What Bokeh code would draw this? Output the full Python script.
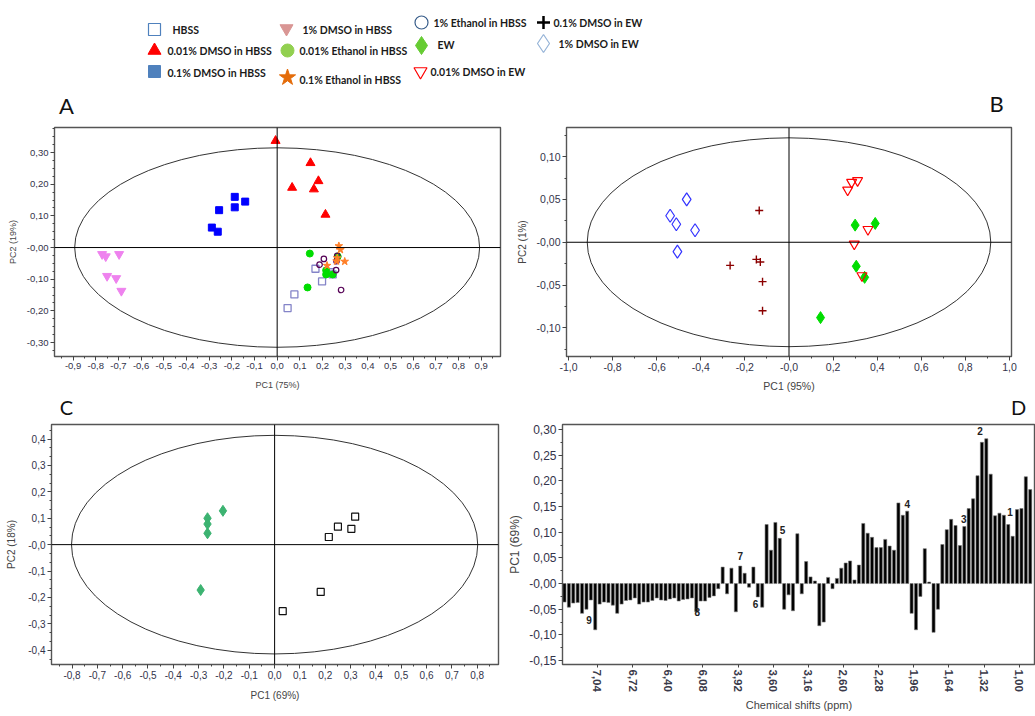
from bokeh.plotting import figure
from bokeh.layouts import column, row
from bokeh.models import Range1d, Span, FixedTicker, SingleIntervalTicker, CustomJSTickFormatter
from bokeh.core.properties import value
from bokeh.embed import file_html
from bokeh.resources import INLINE

# ---------------- DATA ----------------
# Panel A (PC1 75 %, PC2 19 %)
a_hbss_x = [0.169, 0.198, 0.076, 0.046, 0.245, 0.235]
a_hbss_y = [-0.067, -0.107, -0.148, -0.191, -0.085, -0.078]
a_d001_x = [-0.007, 0.147, 0.066, 0.182, 0.162, 0.213]
a_d001_y = [0.337, 0.267, 0.189, 0.210, 0.184, 0.104]
a_d01_x = [-0.187, -0.141, -0.187, -0.256, -0.288, -0.262]
a_d01_y = [0.160, 0.145, 0.127, 0.118, 0.063, 0.050]
a_d1_x = [-0.772, -0.756, -0.697, -0.750, -0.710, -0.687]
a_d1_y = [-0.021, -0.028, -0.021, -0.090, -0.097, -0.137]
a_e001_x = [0.144, 0.134, 0.216, 0.216, 0.245, 0.267]
a_e001_y = [-0.019, -0.126, -0.072, -0.085, -0.085, -0.028]
a_e1_x = [0.206, 0.187, 0.282, 0.265, 0.260, 0.262]
a_e1_y = [-0.036, -0.054, -0.134, -0.026, -0.071, -0.043]
a_e01_x = [0.272, 0.279, 0.298, 0.220, 0.262, 0.265]
a_e01_y = [0.005, -0.007, -0.044, -0.057, -0.043, -0.033]
a_ellipse = [0.893, 0.315]

# Panel B (PC1 95 %, PC2 1 %)
b_d1ew_x = [-0.464, -0.539, -0.511, -0.426, -0.506]
b_d1ew_y = [0.050, 0.031, 0.021, 0.014, -0.011]
b_d01ew_x = [-0.135, -0.267, -0.148, -0.130, -0.120, -0.120]
b_d01ew_y = [0.037, -0.027, -0.020, -0.023, -0.046, -0.080]
b_d001ew_x = [0.266, 0.284, 0.311, 0.358, 0.296, 0.331]
b_d001ew_y = [0.061, 0.070, 0.072, 0.015, -0.002, -0.039]
b_ew_x = [0.300, 0.391, 0.305, 0.343, 0.143]
b_ew_y = [0.020, 0.022, -0.028, -0.041, -0.088]
b_ellipse = [0.915, 0.122]

# Panel C (PC1 69 %, PC2 18 %)
c_grp1_x = [-0.265, -0.265, -0.265, -0.204, -0.292]
c_grp1_y = [0.100, 0.078, 0.043, 0.128, -0.172]
c_grp2_x = [0.318, 0.250, 0.303, 0.214, 0.182, 0.032]
c_grp2_y = [0.106, 0.068, 0.060, 0.029, -0.179, -0.252]
c_ellipse = [0.802, 0.414]

# Panel D: PC1 loadings per spectral bucket
d_loadings = [
    -0.036, -0.046, -0.038, -0.037, -0.058, -0.050, -0.032, -0.090, -0.040, -0.036,
    -0.037, -0.042, -0.058, -0.040, -0.033, -0.032, -0.028, -0.040, -0.036, -0.036,
    -0.033, -0.028, -0.032, -0.033, -0.030, -0.028, -0.034, -0.031, -0.030, -0.028,
    -0.055, -0.034, -0.034, -0.027, -0.024, -0.010, 0.032, -0.020, 0.030, -0.055,
    0.034, 0.020, -0.007, 0.032, -0.026, -0.046, 0.115, 0.065, 0.119, 0.088,
    -0.050, -0.022, -0.053, 0.097, -0.020, 0.043, 0.013, 0.005, -0.082, -0.075,
    0.012, -0.010, 0.010, 0.030, 0.040, 0.044, 0.007, 0.036, 0.117, 0.098,
    0.090, 0.070, 0.070, 0.086, 0.073, 0.065, 0.157, 0.133, 0.141, -0.058,
    -0.090, -0.025, 0.068, 0.003, -0.095, -0.050, 0.076, 0.105, 0.125, 0.113,
    0.074, 0.111, 0.146, 0.165, 0.210, 0.275, 0.282, 0.213, 0.132, 0.137,
    0.133, 0.115, 0.092, 0.144, 0.146, 0.208, 0.183]
d_tick_labels = ["7,04", "6,72", "6,40", "6,08", "3,92", "3,60", "3,16",
                 "2,60", "2,28", "1,96", "1,64", "1,32", "1,00"]
d_peak_labels = ["9", "8", "7", "6", "5", "4", "3", "2", "1"]
d_peak_bucket = [5.6, 30.2, 40.0, 43.5, 49.6, 78.0, 90.9, 94.6, 101.4]
d_peak_y = [-0.070, -0.056, 0.054, -0.040, 0.105, 0.154, 0.126, 0.297, 0.139]

# Legend
leg_labels = ["HBSS", "0.01% DMSO in HBSS", "0.1% DMSO in HBSS",
              "1% DMSO in HBSS", "0.01% Ethanol in HBSS", "0.1% Ethanol in HBSS",
              "1% Ethanol in HBSS", "EW", "0.01% DMSO in EW",
              "0.1% DMSO in EW", "1% DMSO in EW"]
panel_letters_top = ["A", "B"]
panel_letters_bottom = ["C", "D"]

# ---------------- STYLE / LAYOUT ----------------
leg_style = [  # marker, size, fill, line, line_width
    ("square", 12, None, "#4f81bd", 1.2),
    ("triangle", 13, "#ff0000", "#ff0000", 1),
    ("square", 12, "#4f81bd", "#4f81bd", 1),
    ("inverted_triangle", 13, "#d99694", "#d99694", 1),
    ("circle", 13, "#92d050", "#92d050", 1),
    ("star", 17, "#e46c0a", "#e46c0a", 1),
    ("circle", 13, None, "#385d8a", 1.2),
    ("diamond", 18, "#66cc33", "#66cc33", 1),
    ("inverted_triangle", 13, None, "#ff0000", 1.2),
    ("cross", 13, None, "#000000", 2.5),
    ("diamond", 18, None, "#95b3d7", 1.2),
]
leg_pos = [  # marker x, marker y, text x, text y (page pixels)
    (154, 29, 172, 29), (154, 50, 167, 50), (154, 71, 167, 72),
    (286, 28, 302, 29), (287, 50, 299, 50), (287, 77, 299, 79),
    (421, 22, 433, 22), (421, 45, 437, 44), (420, 71, 430, 71),
    (543, 22, 553, 22), (543, 43, 558, 43),
]
letters_top_pos = [(66, 105), (996, 103)]
letters_bottom_pos = [(66, 406.5), (1018, 406.5)]

TICK_COLOR = "#33334a"


def zfmt(d, zero):
    return CustomJSTickFormatter(args=dict(d=d, zero=zero), code="""
        if (Math.abs(tick) < 1e-9) { return zero; }
        return (tick < 0 ? "-" : "") + Math.abs(tick).toFixed(d).replace(".", ",");
    """)


def base_fig(w, h, mb, xr, yr):
    p = figure(width=w, height=h, x_range=Range1d(*xr), y_range=Range1d(*yr),
               output_backend="svg", toolbar_location=None,
               min_border_left=mb[0], min_border_right=mb[1],
               min_border_top=mb[2], min_border_bottom=mb[3])
    p.xgrid.visible = False
    p.ygrid.visible = False
    p.outline_line_color = "#555555"
    p.outline_line_width = 1.4
    p.background_fill_color = "white"
    p.border_fill_color = "white"
    for ax in (p.xaxis[0], p.yaxis[0]):
        ax.axis_line_color = None
        ax.major_tick_in = 0
        ax.major_tick_out = 4
        ax.minor_tick_in = 0
        ax.minor_tick_out = 2
        ax.major_tick_line_color = "#444444"
        ax.minor_tick_line_color = "#444444"
        ax.major_label_text_color = TICK_COLOR
        ax.major_label_text_font = "Liberation Sans"
        ax.axis_label_text_font = "Liberation Sans"
        ax.axis_label_text_font_style = "normal"
        ax.axis_label_text_color = "#444444"
        ax.major_label_standoff = 2
    return p


def strip_fig(h, y0, y1):
    s = figure(width=1035, height=h, x_range=Range1d(0, 1035), y_range=Range1d(y1, y0),
               output_backend="svg", toolbar_location=None, x_axis_type=None,
               y_axis_type=None, min_border=0)
    s.outline_line_color = None
    s.xgrid.visible = False
    s.ygrid.visible = False
    return s


def letters(s, labs, pos, size):
    s.text(x=[q[0] for q in pos], y=[q[1] for q in pos], text=labs,
           text_font=value("Lato"), text_font_size=size, text_color="#111111",
           text_align="center", text_baseline="middle")


def pc_decor(p, ell):
    p.add_layout(Span(location=0, dimension="width", line_color="black", line_width=1))
    p.add_layout(Span(location=0, dimension="height", line_color="black", line_width=1))
    p.ellipse(x=[0], y=[0], width=[2 * ell[0]], height=[2 * ell[1]],
              fill_color=None, line_color="#333333", line_width=1)


# ---------------- LEGEND (+ letters A, B) ----------------
leg = strip_fig(118, 0, 118)
for lab, sty, pos in zip(leg_labels, leg_style, leg_pos):
    mk, sz, fc, lc, lw = sty
    leg.scatter(x=[pos[0]], y=[pos[1]], marker=mk, size=sz, fill_color=fc,
                line_color=lc, line_width=lw)
    leg.text(x=[pos[2]], y=[pos[3]], text=[lab], text_font=value("Lato"),
             text_font_size="10.5px", text_font_style="bold", text_color="#1a1a1a",
             text_align="left", text_baseline="middle")
letters(leg, panel_letters_top, letters_top_pos, "22px")

# ---------------- PANEL A ----------------
pa = base_fig(512, 276, (54, 12, 9, 34), (-0.982, 0.985), (-0.344, 0.379))
pc_decor(pa, a_ellipse)
pa.xaxis.ticker = SingleIntervalTicker(interval=0.1, num_minor_ticks=2)
pa.yaxis.ticker = SingleIntervalTicker(interval=0.1, num_minor_ticks=4)
pa.xaxis.formatter = zfmt(1, "0,0")
pa.yaxis.formatter = zfmt(2, "-0,00")
pa.xaxis.major_label_text_font_size = "9.5px"
pa.yaxis.major_label_text_font_size = "9.5px"
pa.xaxis.axis_label = "PC1 (75%)"
pa.yaxis.axis_label = "PC2 (19%)"
pa.xaxis.axis_label_text_font_size = "9px"
pa.yaxis.axis_label_text_font_size = "9px"
pa.xaxis.axis_label_standoff = 8
pa.yaxis.axis_label_standoff = 6
pa.scatter(a_d1_x, a_d1_y, marker="inverted_triangle", size=9, fill_color="#ee82ee", line_color="#ee82ee")
pa.scatter(a_d01_x, a_d01_y, marker="square", size=7, fill_color="#0000ff", line_color="#0000ff")
pa.scatter(a_d001_x, a_d001_y, marker="triangle", size=9, fill_color="#ff0000", line_color="#ff0000")
pa.scatter(a_hbss_x, a_hbss_y, marker="square", size=7, fill_color=None, line_color="#8484c8", line_width=1.3)
pa.scatter(a_e001_x, a_e001_y, marker="circle", size=7, fill_color="#00dd00", line_color="#00dd00")
pa.scatter(a_e1_x, a_e1_y, marker="circle", size=5.5, fill_color=None, line_color="#550055", line_width=1.2)
pa.scatter(a_e01_x, a_e01_y, marker="star", size=8, fill_color="#ff7f27", line_color="#ff7f27")

# ---------------- PANEL B ----------------
pb = base_fig(523, 276, (54, 24, 7, 34), (-1.009, 1.009), (-0.1334, 0.134))
pc_decor(pb, b_ellipse)
pb.xaxis.ticker = SingleIntervalTicker(interval=0.2, num_minor_ticks=2)
pb.yaxis.ticker = SingleIntervalTicker(interval=0.05, num_minor_ticks=2)
pb.xaxis.formatter = zfmt(1, "-0,0")
pb.yaxis.formatter = zfmt(2, "-0,00")
pb.xaxis.major_label_text_font_size = "10.5px"
pb.yaxis.major_label_text_font_size = "10.5px"
pb.xaxis.axis_label = "PC1 (95%)"
pb.yaxis.axis_label = "PC2 (1%)"
pb.xaxis.axis_label_text_font_size = "10.5px"
pb.yaxis.axis_label_text_font_size = "10px"
pb.xaxis.axis_label_standoff = 6
pb.yaxis.axis_label_standoff = 6
pb.scatter(b_d1ew_x, b_d1ew_y, marker="diamond", size=13, fill_color=None, line_color="#3333ff", line_width=1.2)
pb.scatter(b_d01ew_x, b_d01ew_y, marker="cross", size=8, line_color="#8b0000", line_width=1.4)
pb.scatter(b_ew_x, b_ew_y, marker="diamond", size=12, fill_color="#00dd00", line_color="#00dd00")
pb.scatter(b_d001ew_x, b_d001ew_y, marker="inverted_triangle", size=10, fill_color=None, line_color="#ff0000", line_width=1.2)

# ---------------- LETTERS C, D ----------------
mid = strip_fig(25, 394, 419)
letters(mid, panel_letters_bottom, letters_bottom_pos, "20px")

# ---------------- PANEL C ----------------
pcf = base_fig(505, 297, (51, 7, 5, 50), (-0.881, 0.884), (-0.454, 0.455))
pc_decor(pcf, c_ellipse)
pcf.xaxis.ticker = SingleIntervalTicker(interval=0.1, num_minor_ticks=2)
pcf.yaxis.ticker = SingleIntervalTicker(interval=0.1, num_minor_ticks=3)
pcf.xaxis.formatter = zfmt(1, "0,0")
pcf.yaxis.formatter = zfmt(1, "-0,0")
pcf.xaxis.major_label_text_font_size = "10px"
pcf.yaxis.major_label_text_font_size = "10px"
pcf.xaxis.axis_label = "PC1 (69%)"
pcf.yaxis.axis_label = "PC2 (18%)"
pcf.xaxis.axis_label_text_font_size = "10px"
pcf.yaxis.axis_label_text_font_size = "10px"
pcf.xaxis.axis_label_standoff = 8
pcf.yaxis.axis_label_standoff = 8
pcf.scatter(c_grp1_x, c_grp1_y, marker="diamond", size=11, fill_color="#3cb371", line_color="#3cb371")
pcf.scatter(c_grp2_x, c_grp2_y, marker="square", size=7, fill_color=None, line_color="#111111", line_width=1.2)

# ---------------- PANEL D ----------------
d_idx = list(range(len(d_loadings)))
d_tick_pos = [7.5 + 8 * k for k in range(len(d_tick_labels))]
pd_ = base_fig(530, 297, (51, 0, 1, 52), (-0.45, 107.2), (-0.1576, 0.3097))
pd_.vbar(x=d_idx, top=d_loadings, bottom=0, width=0.7, fill_color="black",
         line_color="#777777", line_width=0.6)
pd_.text(x=d_peak_bucket, y=d_peak_y, text=d_peak_labels, text_font=value("Liberation Sans"),
         text_font_size="10px", text_font_style="bold", text_color="#222222",
         text_align="center", text_baseline="middle")
pd_.xaxis.ticker = FixedTicker(ticks=d_tick_pos, minor_ticks=[])
pd_.xaxis.major_label_overrides = {t: l for t, l in zip(d_tick_pos, d_tick_labels)}
pd_.xaxis.major_label_orientation = "vertical"
pd_.xaxis.major_tick_out = 3
pd_.yaxis.ticker = SingleIntervalTicker(interval=0.05, num_minor_ticks=2)
pd_.yaxis.formatter = zfmt(2, "-0,00")
pd_.xaxis.major_label_text_font_size = "11.5px"
pd_.xaxis.major_label_text_font_style = "bold"
pd_.xaxis.major_label_text_color = "#3a3a4a"
pd_.yaxis.major_label_text_font_size = "12px"
pd_.xaxis.axis_label = "Chemical shifts (ppm)"
pd_.yaxis.axis_label = "PC1 (69%)"
pd_.xaxis.axis_label_text_font_size = "11px"
pd_.yaxis.axis_label_text_font_size = "12px"
pd_.xaxis.axis_label_standoff = 4
pd_.yaxis.axis_label_standoff = 4

layout = column(leg, row(pa, pb), mid, row(pcf, pd_))
open("out.html", "w").write(file_html(layout, INLINE))
